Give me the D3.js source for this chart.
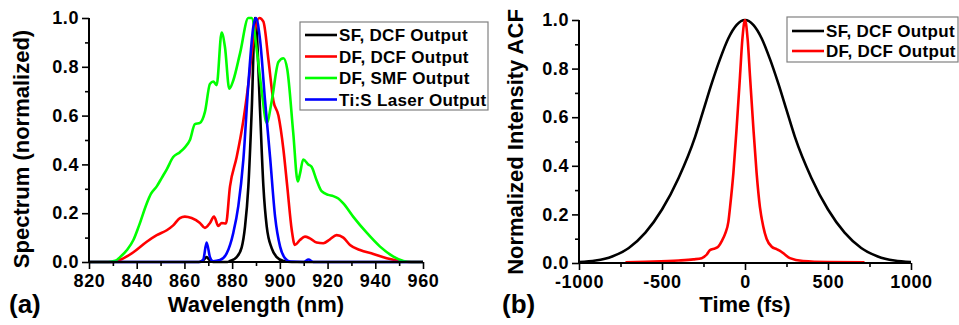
<!DOCTYPE html>
<html><head><meta charset="utf-8">
<script src="https://cdn.jsdelivr.net/npm/d3@7"></script>
<style>
body{margin:0;background:#fff;}
svg{display:block;font-family:"Liberation Sans",Arial,sans-serif;font-weight:bold;}
</style></head><body>
<svg id="c" width="959" height="325"></svg>
<script>
// ---- Panel (a) data: spectra ----
const sfDcfWl = [820,866,868,869.3,870.5,872,878,879.1,881.9,884,885.4,886.8,888.2,889.6,890.3,891.7,893.1,894.5,896.6,898.7,901.5,905,960];
const sfDcfVal = [0,0,0.008,0.02,0.008,0,0,0.004,0.02,0.06,0.145,0.31,0.62,1.0,0.94,0.62,0.31,0.145,0.056,0.02,0.004,0,0];

const dfDcfWl = [820,830,834.4,838.6,844.2,848.4,852.6,855.3,858.1,860.2,863,866.5,868.6,870.7,872.4,874.2,875.6,877.4,879.1,881.9,884.7,886.8,888.9,891.4,893.1,895.2,897.3,899.4,901.5,903.1,905,906.3,908.4,910.5,912.6,915.4,918.2,921,923.8,926.6,929.4,933.6,939.2,944.8,950.4,955,960];
const dfDcfVal = [0,0,0.015,0.04,0.083,0.11,0.13,0.15,0.18,0.186,0.18,0.16,0.14,0.16,0.186,0.148,0.16,0.158,0.31,0.43,0.58,0.73,0.91,1.0,0.985,0.83,0.66,0.6,0.46,0.31,0.13,0.07,0.09,0.104,0.097,0.08,0.077,0.093,0.11,0.1,0.07,0.049,0.033,0.015,0.004,0,0];

const dfSmfWl = [820,828,831,833,836,838.6,841,844.2,846,848.4,850.5,852.6,855.3,858.1,860.2,862.3,864.4,866.5,868.6,870.7,872.1,873.5,875.6,877,878.8,880.5,883.3,886.8,888.2,890.3,892.4,894.5,896.6,899.4,901.5,903.1,905.6,907.5,908.4,909.8,911.9,913.3,915.4,917.5,920.3,922.4,924.5,926.6,930.8,936.4,942,947.6,951.8,955,960];
const dfSmfVal = [0,0,0.005,0.02,0.05,0.09,0.15,0.24,0.28,0.31,0.345,0.38,0.43,0.45,0.47,0.50,0.565,0.57,0.615,0.73,0.74,0.725,0.94,0.88,0.71,0.745,0.855,1.0,1.0,0.87,0.70,0.57,0.66,0.82,0.835,0.79,0.53,0.33,0.36,0.42,0.40,0.39,0.335,0.29,0.275,0.27,0.26,0.24,0.185,0.12,0.063,0.022,0.004,0,0];

const tisWl = [820,866.5,867.9,869.3,870.7,872,874.9,877.7,880.5,882.6,884.7,886.8,888.9,890,891.7,893.8,895.9,898,900.1,902.2,904.3,910,912,914,960];
const tisVal = [0,0,0.01,0.08,0.02,0.003,0.008,0.035,0.12,0.23,0.42,0.73,0.965,1.0,0.91,0.66,0.43,0.186,0.063,0.015,0.002,0,0.01,0,0];

const seriesA = ["SF, DCF Output","DF, DCF Output","DF, SMF Output","Ti:S Laser Output"];
const colorsA = ["#000000","#ff0000","#00ff00","#0000ff"];
const xTicksA = [820,840,860,880,900,920,940,960];
const yTicks = [0,0.2,0.4,0.6,0.8,1.0];

// ---- Panel (b) data: autocorrelation ----
const sfTime = [-1000,-900,-800,-700,-600,-500,-400,-300,-250,-200,-150,-100,-50,0,50,100,150,200,250,300,400,500,600,700,800,900,1000];
const sfAcf = [0.004,0.01,0.027,0.062,0.125,0.22,0.35,0.52,0.63,0.74,0.84,0.925,0.98,1.0,0.98,0.925,0.84,0.74,0.63,0.52,0.35,0.22,0.125,0.062,0.027,0.01,0.004];
const dfTime = [-720,-600,-400,-311,-261,-230,-211,-180,-161,-140,-120,-100,-90,-70,-50,-30,-16,0,16,30,50,70,90,110,130,161,190,211,240,271,350,500,720];
const dfAcf = [0.003,0.005,0.01,0.015,0.02,0.035,0.053,0.06,0.067,0.09,0.12,0.17,0.23,0.37,0.56,0.77,0.92,1.0,0.92,0.77,0.56,0.37,0.23,0.15,0.1,0.067,0.057,0.05,0.035,0.02,0.008,0.004,0.003];
const seriesB = ["SF, DCF Output","DF, DCF Output"];
const colorsB = ["#000000","#ff0000"];
const xTicksB = [-1000,-500,0,500,1000];

const svg = d3.select("#c");
const zip = (xs, ys) => xs.map((x,i)=>[x, ys[i]]);
const fmtInt = d => String(d);

function panel(opt){
  const g = svg.append("g");
  const x = d3.scaleLinear().domain(opt.xDomain).range([opt.left, opt.right]);
  const y = d3.scaleLinear().domain([0,1]).range([opt.bottom, opt.top]);
  const line = d3.line().x(d=>x(d[0])).y(d=>y(d[1])).curve(d3.curveMonotoneX);
  opt.data.forEach((d,i)=>{
    g.append("path").attr("d", line(d)).attr("fill","none")
      .attr("stroke", opt.colors[i]).attr("stroke-width",2.6).attr("stroke-linejoin","round");
  });
  // x axis
  const xa = g.append("g").attr("transform",`translate(0,${opt.bottom})`)
    .call(d3.axisBottom(x).tickValues(opt.xTicks).tickSize(7).tickPadding(5).tickFormat(fmtInt));
  const minorX = d3.range(opt.xDomain[0], opt.xDomain[1]+1e-9, opt.xMinor).filter(v=>!opt.xTicks.includes(v));
  g.append("g").attr("transform",`translate(0,${opt.bottom})`)
    .call(d3.axisBottom(x).tickValues(minorX).tickSize(4).tickFormat(""))
    .call(s=>s.select(".domain").remove());
  // y axis
  const ya = g.append("g").attr("transform",`translate(${opt.left},0)`)
    .call(d3.axisLeft(y).tickValues(yTicks).tickSize(7).tickPadding(3).tickFormat(d3.format(".1f")));
  g.append("g").attr("transform",`translate(${opt.left},0)`)
    .call(d3.axisLeft(y).tickValues([0.1,0.3,0.5,0.7,0.9]).tickSize(4).tickFormat(""))
    .call(s=>s.select(".domain").remove());
  g.selectAll(".domain").attr("stroke","#000").attr("stroke-width",2);
  g.selectAll(".tick line").attr("stroke","#000").attr("stroke-width",1.6);
  g.selectAll(".tick text").attr("font-size",18).attr("font-weight","bold").attr("letter-spacing","0.6px")
    .attr("font-family","'Liberation Sans',Arial,sans-serif").attr("fill","#000");
  xa.selectAll(".domain").attr("d",`M${opt.left},0H${opt.right}`);
  ya.selectAll(".domain").attr("d",`M0,${opt.bottom}V${opt.top}`);
  // titles
  g.append("text").attr("x",(opt.left+opt.right)/2).attr("y",312).attr("text-anchor","middle")
    .attr("font-size",22).text(opt.xTitle);
  g.append("text").attr("transform",`translate(${opt.yTitleX},${opt.yTitleY}) rotate(-90)`)
    .attr("text-anchor","middle").attr("font-size",22).text(opt.yTitle);
  g.append("text").attr("x",opt.labelX).attr("y",313).attr("font-size",26).text(opt.label);
  // legend
  const L = opt.legend;
  g.append("rect").attr("x",L.x).attr("y",L.y).attr("width",L.w).attr("height",L.h)
    .attr("fill","#fff").attr("stroke","#808080").attr("stroke-width",1.2);
  opt.names.forEach((n,i)=>{
    const cy = L.y + L.first + i*L.step;
    g.append("line").attr("x1",L.x+5).attr("x2",L.x+37).attr("y1",cy).attr("y2",cy)
      .attr("stroke",opt.colors[i]).attr("stroke-width",2.6);
    g.append("text").attr("x",L.x+39).attr("y",cy+6).attr("font-size",17).attr("letter-spacing","0.3px").text(n);
  });
}

panel({
  xDomain:[820,960], left:89, right:423, top:18, bottom:262, xTicks:xTicksA, xMinor:10,
  data:[zip(sfDcfWl,sfDcfVal), zip(dfDcfWl,dfDcfVal), zip(dfSmfWl,dfSmfVal), zip(tisWl,tisVal)],
  colors:colorsA, names:seriesA,
  xTitle:"Wavelength (nm)", yTitle:"Spectrum (normalized)", yTitleX:29, yTitleY:149,
  label:"(a)", labelX:9,
  legend:{x:300,y:22,w:188,h:88,first:13,step:21.5}
});

panel({
  xDomain:[-1000,1000], left:579, right:911, top:20, bottom:263, xTicks:xTicksB, xMinor:250,
  data:[zip(sfTime,sfAcf), zip(dfTime,dfAcf)], colors:colorsB, names:seriesB,
  xTitle:"Time (fs)", yTitle:"Normalized Intensity ACF", yTitleX:523, yTitleY:142,
  label:"(b)", labelX:502,
  legend:{x:787,y:17,w:171,h:45,first:14,step:20}
});
</script>
</body></html>
